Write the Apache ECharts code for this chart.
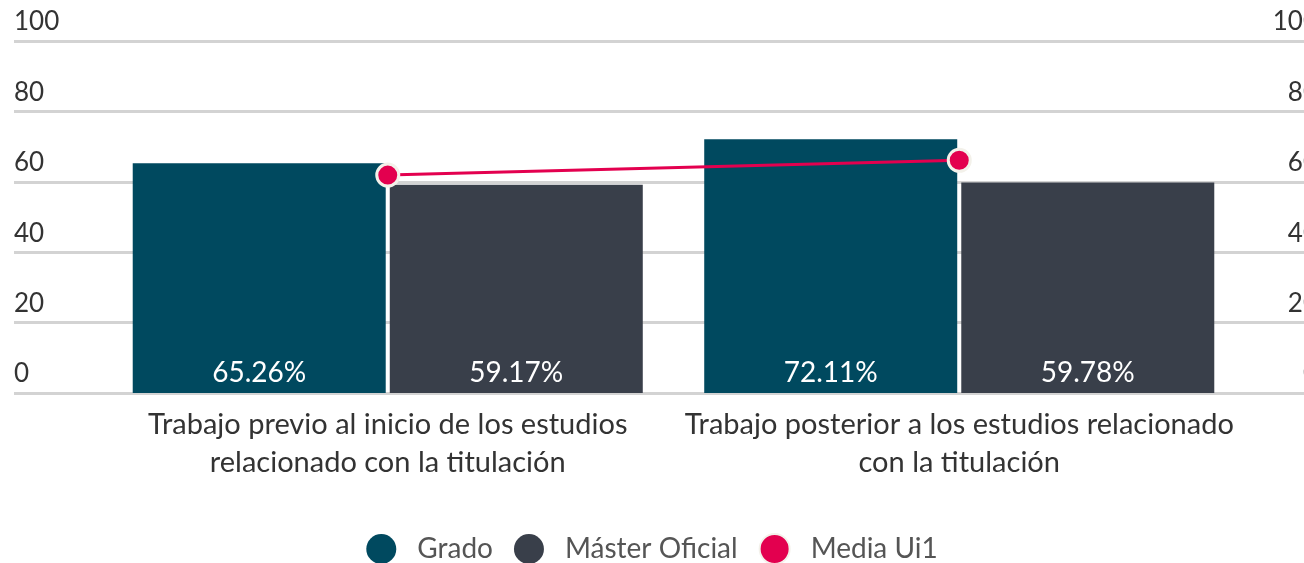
<!DOCTYPE html>
<html><head><meta charset="utf-8">
<script src="https://cdn.jsdelivr.net/npm/echarts@6/dist/echarts.min.js"></script>
<style>html,body{margin:0;padding:0;background:#fff}#c{width:1304px;height:563px}</style>
</head><body><div id="c"></div>
<script>
const categories = ['Trabajo previo al inicio de los estudios\nrelacionado con la titulación', 'Trabajo posterior a los estudios relacionado\ncon la titulación'];
const grado = [65.26, 72.11];
const master = [59.17, 59.78];
const media = [61.9, 66.1];
const yTicks = [0, 20, 40, 60, 80, 100];
const FONT = 'Lato';
const chart = echarts.init(document.getElementById('c'));
chart.setOption({
  animation: false,
  textStyle: { fontFamily: FONT },
  grid: [
    { left: 14, right: 0, top: 41, bottom: 170, outerBoundsMode: 'none', containLabel: false },
    { left: 102, right: 59, top: 41, bottom: 170, outerBoundsMode: 'none', containLabel: false }
  ],
  xAxis: [
    { gridIndex: 0, type: 'value', show: false },
    { gridIndex: 1, type: 'category', data: categories,
      axisLine: { show: false }, axisTick: { show: false },
      axisLabel: { interval: 0, margin: 13, fontFamily: FONT, fontSize: 29, lineHeight: 38, color: '#333' } }
  ],
  yAxis: [
    { gridIndex: 0, type: 'value', position: 'left', min: yTicks[0], max: yTicks[yTicks.length-1], interval: 20,
      axisLine: { show: false }, axisTick: { show: false },
      axisLabel: { inside: true, align: 'left', verticalAlign: 'bottom', padding: [0, 0, 6, 0], margin: 0,
        fontFamily: FONT, fontSize: 26, color: '#333' },
      splitLine: { lineStyle: { color: '#d3d3d3', width: 3 } } },
    { gridIndex: 0, type: 'value', position: 'right', min: 0, max: 100, interval: 20,
      axisLine: { show: false }, axisTick: { show: false },
      axisLabel: { inside: false, align: 'right', verticalAlign: 'bottom', padding: [0, 0, 6, 0], margin: 14,
        fontFamily: FONT, fontSize: 26, color: '#333' },
      splitLine: { show: false } },
    { gridIndex: 1, type: 'value', min: 0, max: 100, show: false }
  ],
  legend: {
    bottom: -7, left: 'center', icon: 'circle', itemWidth: 30, itemHeight: 30, itemGap: 21,
    textStyle: { fontFamily: FONT, fontSize: 28, color: '#555', padding: [0, 0, 0, 16] },
    data: ['Grado', 'Máster Oficial', 'Media Ui1']
  },
  series: [
    { name: 'Grado', type: 'bar', xAxisIndex: 1, yAxisIndex: 2, data: grado, barWidth: 253, barGap: '1.6%',
      itemStyle: { color: '#00495f' },
      label: { show: true, position: 'insideBottom', distance: 6, formatter: p => p.value.toFixed(2) + '%', color: '#fff', fontFamily: FONT, fontSize: 28 } },
    { name: 'Máster Oficial', type: 'bar', xAxisIndex: 1, yAxisIndex: 2, data: master, barWidth: 253,
      itemStyle: { color: '#393f4a' },
      label: { show: true, position: 'insideBottom', distance: 6, formatter: p => p.value.toFixed(2) + '%', color: '#fff', fontFamily: FONT, fontSize: 28 } },
    { name: 'Media Ui1', type: 'line', xAxisIndex: 1, yAxisIndex: 2, data: media,
      symbol: 'circle', symbolSize: 22, z: 5,
      lineStyle: { color: '#e3004f', width: 3 },
      itemStyle: { color: '#e3004f', borderColor: '#f3f1ea', borderWidth: 3 } }
  ]
});
</script></body></html>
